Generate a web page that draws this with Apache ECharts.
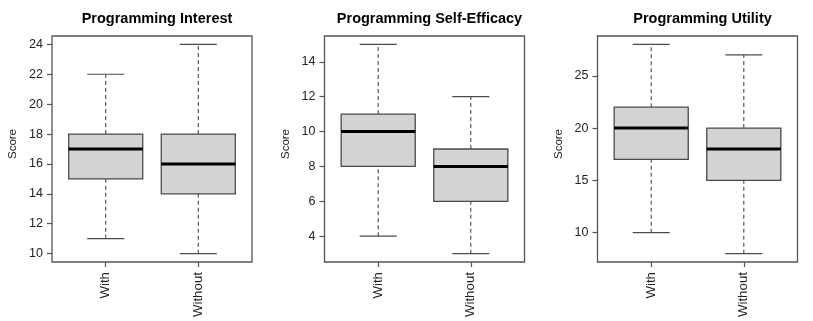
<!DOCTYPE html>
<html>
<head>
<meta charset="utf-8">
<script src="https://cdn.jsdelivr.net/npm/echarts@6/dist/echarts.min.js"></script>
<style>
html,body{margin:0;padding:0;background:#fff;}
#chart{width:813px;height:321px;}
</style>
</head>
<body>
<div id="chart"></div>
<script>
// Data: [min, Q1, median, Q3, max] per group
const categories = ['With', 'Without'];
const titles = ['Programming Interest', 'Programming Self-Efficacy', 'Programming Utility'];
const interestWith = [11, 15, 17, 18, 22];
const interestWithout = [10, 14, 16, 18, 24];
const efficacyWith = [4, 8, 10, 11, 15];
const efficacyWithout = [3, 6, 8, 9, 12];
const utilityWith = [10, 17, 20, 22, 28];
const utilityWithout = [8, 15, 18, 20, 27];
const yTicks1 = [10, 12, 14, 16, 18, 20, 22, 24];
const yTicks2 = [4, 6, 8, 10, 12, 14];
const yTicks3 = [10, 15, 20, 25];
const xTicks = [1, 2];

const panels = [
  {title: titles[0], groups: [interestWith, interestWithout], ticks: yTicks1},
  {title: titles[1], groups: [efficacyWith, efficacyWithout], ticks: yTicks2},
  {title: titles[2], groups: [utilityWith, utilityWithout], ticks: yTicks3}
];

const FONT = "'Liberation Sans', Arial, Helvetica, sans-serif";
const lefts = [52, 324.5, 597.5];
const gridW = 200, gridTop = 36, gridH = 226;
const frameColor = '#555';

const option = {
  animation: false,
  backgroundColor: '#fff',
  title: [], grid: [], xAxis: [], yAxis: [], series: []
};

panels.forEach((p, i) => {
  let lo = Infinity, hi = -Infinity;
  p.groups.forEach(g => { lo = Math.min(lo, g[0]); hi = Math.max(hi, g[4]); });
  const pad = (hi - lo) * 0.04;
  option.title.push({
    text: p.title,
    left: lefts[i] + gridW / 2,
    top: 6,
    textAlign: 'center',
    textStyle: {fontFamily: FONT, fontSize: 14.5, fontWeight: 'bold', color: '#000'}
  });
  option.grid.push({
    left: lefts[i], top: gridTop, width: gridW, height: gridH,
    show: true, borderColor: frameColor, borderWidth: 1.3, backgroundColor: 'transparent'
  });
  option.xAxis.push({
    type: 'value', gridIndex: i, min: 0.42, max: 2.58,
    axisLine: {show: false},
    splitLine: {show: false},
    axisTick: {show: true, customValues: xTicks, length: 5, inside: false, lineStyle: {color: frameColor, width: 1.2}},
    axisLabel: {
      customValues: xTicks, rotate: 90, margin: 10,
      formatter: v => categories[Math.round(v) - 1],
      fontFamily: FONT, fontSize: 13.3, color: '#222'
    }
  });
  option.yAxis.push({
    type: 'value', gridIndex: i, min: lo - pad, max: hi + pad,
    name: 'Score', nameLocation: 'middle', nameGap: 33,
    nameTextStyle: {fontFamily: FONT, fontSize: 11.5, color: '#222', padding: [0, 0, 0, 10]},
    axisLine: {show: false},
    splitLine: {show: false},
    axisTick: {show: true, customValues: p.ticks, length: 5, lineStyle: {color: frameColor, width: 1.2}},
    axisLabel: {customValues: p.ticks, margin: 9, fontFamily: FONT, fontSize: 12.5, color: '#222'}
  });
  option.series.push({
    type: 'custom',
    xAxisIndex: i, yAxisIndex: i,
    data: p.groups.map((g, k) => [k + 1].concat(g)),
    encode: {x: 0, y: [1, 2, 3, 4, 5]},
    renderItem: function (params, api) {
      const x = api.value(0);
      const v = [1, 2, 3, 4, 5].map(d => api.value(d));
      const pt = v.map(val => api.coord([x, val]));
      const cx = pt[0][0];
      const bw = api.size([0.8, 0])[0];
      const cw = api.size([0.4, 0])[0];
      const stroke = '#4a4a4a';
      return {
        type: 'group',
        children: [
          {type: 'line', shape: {x1: cx, y1: pt[0][1], x2: cx, y2: pt[1][1]},
            style: {stroke: stroke, lineWidth: 1.1, lineDash: [4, 3]}},
          {type: 'line', shape: {x1: cx, y1: pt[3][1], x2: cx, y2: pt[4][1]},
            style: {stroke: stroke, lineWidth: 1.1, lineDash: [4, 3]}},
          {type: 'line', shape: {x1: cx - cw / 2, y1: pt[0][1], x2: cx + cw / 2, y2: pt[0][1]},
            style: {stroke: stroke, lineWidth: 1.2}},
          {type: 'line', shape: {x1: cx - cw / 2, y1: pt[4][1], x2: cx + cw / 2, y2: pt[4][1]},
            style: {stroke: stroke, lineWidth: 1.2}},
          {type: 'rect', shape: {x: cx - bw / 2, y: pt[3][1], width: bw, height: pt[1][1] - pt[3][1]},
            style: {fill: '#d3d3d3', stroke: stroke, lineWidth: 1.3}},
          {type: 'line', shape: {x1: cx - bw / 2, y1: pt[2][1], x2: cx + bw / 2, y2: pt[2][1]},
            style: {stroke: '#000', lineWidth: 3}}
        ]
      };
    }
  });
});

const chart = echarts.init(document.getElementById('chart'), null, {renderer: 'canvas'});
chart.setOption(option);
</script>
</body>
</html>
